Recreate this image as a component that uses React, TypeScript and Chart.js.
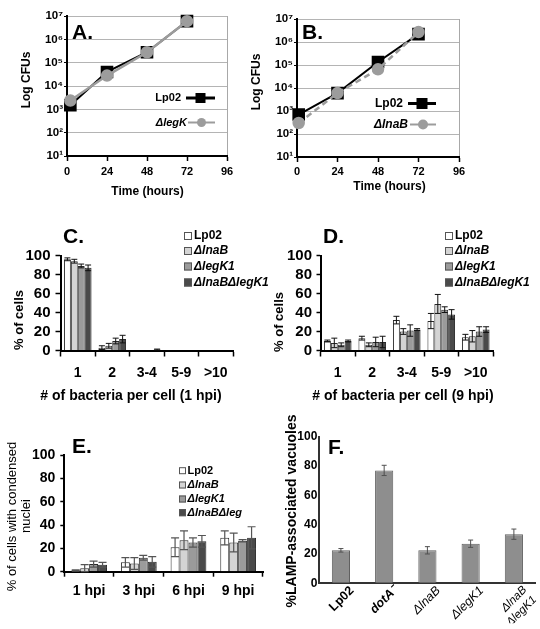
import React, { useEffect, useRef } from 'react';
import { Chart, registerables } from 'chart.js';

Chart.register(...registerables);

const FONT = '"Liberation Sans", Arial, Helvetica, sans-serif';

// ---------------- data ----------------
const strainLabels = ['Lp02', 'ΔlnaB', 'ΔlegK1', 'ΔlnaBΔlegK1'];
const strainLabelsE = ['Lp02', 'ΔlnaB', 'ΔlegK1', 'ΔlnaBΔleg'];
const strainColors = ['#ffffff', '#d4d4d4', '#9b9b9b', '#4a4a4a'];

// A / B growth curves
const timeTicks = [0, 24, 48, 72, 96];
const logTickValues = [1e1, 1e2, 1e3, 1e4, 1e5, 1e6, 1e7];
const logTickLabels = ['10¹', '10²', '10³', '10⁴', '10⁵', '10⁶', '10⁷'];

const aTimes = [2, 24, 48, 72];
const aLp02 = [1.5e3, 4.0e4, 2.8e5, 6.0e6];
const aLegK = [2.4e3, 2.8e4, 2.8e5, 6.0e6];
const aSeriesNames = ['Lp02', 'ΔlegK'];

const bTimes = [1, 24, 48, 72];
const bLp02 = [7.0e2, 6.0e3, 1.35e5, 2.2e6];
const bLnaB = [3.0e2, 6.0e3, 6.5e4, 2.7e6];
const bSeriesNames = ['Lp02', 'ΔlnaB'];

// C: bacteria per cell, 1 hpi
const bacteriaCategories = ['1', '2', '3-4', '5-9', '>10'];
const cLp02 = [96, 3, 0, 0, 0];
const cLnaB = [94, 5, 0, 0, 0];
const cLegK1 = [89, 10, 0, 0, 0];
const cDouble = [87, 12, 1, 0, 0];
const cLp02Err = [1.5, 2, 0, 0, 0];
const cLnaBErr = [2, 2.5, 0, 0, 0];
const cLegK1Err = [2, 3, 0, 0, 0];
const cDoubleErr = [3, 4, 0.5, 0, 0];

// D: bacteria per cell, 9 hpi
const dLp02 = [10, 13, 32, 31, 14];
const dLnaB = [8, 6, 20, 49, 15];
const dLegK1 = [6, 9, 21, 43, 20];
const dDouble = [10, 9, 22, 38, 22];
const dLp02Err = [1, 2, 4, 8, 3];
const dLnaBErr = [5, 2, 3, 10, 6];
const dLegK1Err = [2, 5, 6, 3, 5];
const dDoubleErr = [1, 6, 1, 5, 3];

// E: condensed nuclei
const hpiCategories = ['1 hpi', '3 hpi', '6 hpi', '9 hpi'];
const eLp02 = [1, 8, 21, 29];
const eLnaB = [3, 7, 27, 25];
const eLegK1 = [6.5, 12, 25, 26.5];
const eDouble = [6, 8.5, 26, 29];
const eLp02Err = [0.5, 4, 8, 6];
const eLnaBErr = [3, 5, 8, 8];
const eLegK1Err = [2.5, 2, 4, 1];
const eDoubleErr = [2, 4.5, 5, 9.5];

// F: LAMP-associated vacuoles
const fCategories: (string | string[])[] = ['Lp02', 'dotA⁻', 'ΔlnaB', 'ΔlegK1', ['ΔlnaB', 'ΔlegK1']];
const fValues = [22.5, 77, 22.5, 27, 33.5];
const fErrors = [1.2, 3.5, 2.5, 2.5, 3.5];

// ---------------- layout ----------------
type Box = { x: number; y: number; w: number; h: number };
type Area = { L: number; T: number; R: number; B: number };

const YW = 40;

const BOX_A: Box = { x: 0, y: 0, w: 250, h: 205 };
const AREA_A: Area = { L: 67, T: 16, R: 227, B: 156 };
const BOX_B: Box = { x: 240, y: 0, w: 300, h: 205 };
const AREA_B: Area = { L: 297, T: 19, R: 459, B: 157 };
const BOX_C: Box = { x: 0, y: 205, w: 285, h: 200 };
const AREA_C: Area = { L: 60.5, T: 255.5, R: 233, B: 350.5 };
const BOX_D: Box = { x: 265, y: 205, w: 275, h: 200 };
const AREA_D: Area = { L: 320.5, T: 255.5, R: 493, B: 350.5 };
const BOX_E: Box = { x: 0, y: 405, w: 270, h: 224 };
const AREA_E: Area = { L: 64.3, T: 455, R: 263, B: 571.7 };
const BOX_F: Box = { x: 270, y: 405, w: 270, h: 224 };
const AREA_F: Area = { L: 319.3, T: 436.7, R: 535.5, B: 583.3 };

function layoutFor(box: Box, area: Area, xh: number) {
  return {
    autoPadding: false,
    padding: {
      left: area.L - box.x - YW,
      top: area.T - box.y,
      right: box.x + box.w - area.R,
      bottom: box.y + box.h - area.B - xh,
    },
  };
}

// ---------------- drawing helpers ----------------
function txt(
  ctx: CanvasRenderingContext2D,
  t: string,
  x: number,
  y: number,
  font: string,
  rot = 0,
  align: CanvasTextAlign = 'center',
  color = '#000'
) {
  ctx.save();
  ctx.translate(x, y);
  if (rot) ctx.rotate(rot);
  ctx.font = font;
  ctx.fillStyle = color;
  ctx.textAlign = align;
  ctx.textBaseline = 'middle';
  ctx.fillText(t, 0, 0);
  ctx.restore();
}

function decorPlugin(box: Box, draw: (ctx: CanvasRenderingContext2D) => void) {
  return {
    id: 'decor',
    afterDraw(chart: any) {
      const ctx = chart.ctx as CanvasRenderingContext2D;
      ctx.save();
      ctx.translate(-box.x, -box.y);
      draw(ctx);
      ctx.restore();
    },
  };
}

function errorBarPlugin(errorSets: number[][], color: string, width: number, cap: number) {
  return {
    id: 'errorBars',
    afterDatasetsDraw(chart: any) {
      const ctx = chart.ctx as CanvasRenderingContext2D;
      const ys = chart.scales.y;
      ctx.save();
      ctx.strokeStyle = color;
      ctx.lineWidth = width;
      errorSets.forEach((errs, i) => {
        const meta = chart.getDatasetMeta(i);
        const vals = chart.data.datasets[i].data as number[];
        meta.data.forEach((bar: any, j: number) => {
          const e = errs[j];
          if (!e) return;
          const v = vals[j];
          const x = bar.x;
          const y1 = ys.getPixelForValue(v + e);
          const y2 = ys.getPixelForValue(Math.max(0, v - e));
          ctx.beginPath();
          ctx.moveTo(x, y1);
          ctx.lineTo(x, y2);
          ctx.moveTo(x - cap, y1);
          ctx.lineTo(x + cap, y1);
          ctx.moveTo(x - cap, y2);
          ctx.lineTo(x + cap, y2);
          ctx.stroke();
        });
      });
      ctx.restore();
    },
  };
}

function drawBoxLegend(
  ctx: CanvasRenderingContext2D,
  labels: string[],
  boxX: number,
  textX: number,
  ys: number[],
  size: number,
  fontSize: number
) {
  labels.forEach((lab, i) => {
    ctx.fillStyle = strainColors[i];
    ctx.fillRect(boxX, ys[i] - size / 2, size, size);
    ctx.strokeStyle = '#555';
    ctx.lineWidth = 1;
    ctx.strokeRect(boxX + 0.5, ys[i] - size / 2 + 0.5, size - 1, size - 1);
    const font = `${i === 0 ? '' : 'italic '}bold ${fontSize}px ${FONT}`;
    txt(ctx, lab, textX, ys[i], font, 0, 'left');
  });
}

function drawLineLegendItem(
  ctx: CanvasRenderingContext2D,
  label: string,
  font: string,
  textRight: number,
  y: number,
  x1: number,
  x2: number,
  color: string,
  marker: 'rect' | 'circle',
  size: number,
  lineW: number
) {
  txt(ctx, label, textRight, y, font, 0, 'right');
  ctx.save();
  ctx.strokeStyle = color;
  ctx.lineWidth = lineW;
  ctx.beginPath();
  ctx.moveTo(x1, y);
  ctx.lineTo(x2, y);
  ctx.stroke();
  ctx.fillStyle = color;
  const cx = (x1 + x2) / 2;
  if (marker === 'rect') {
    ctx.fillRect(cx - size / 2, y - size / 2, size, size);
  } else {
    ctx.beginPath();
    ctx.arc(cx, y, size / 2, 0, Math.PI * 2);
    ctx.fill();
  }
  ctx.restore();
}

// ---------------- configs ----------------
const BOLD = (size: number) => ({ family: FONT, size, weight: 'bold' as const });

function growthConfig(
  box: Box,
  area: Area,
  times: number[],
  black: number[],
  gray: number[],
  grayDash: number[],
  labelPad: number,
  decor: (ctx: CanvasRenderingContext2D) => void
) {
  const GRAY = '#9c9c9c';
  const xh = 30;
  return {
    type: 'line',
    data: {
      datasets: [
        {
          label: 'gray',
          data: times.map((t, i) => ({ x: t, y: gray[i] })),
          borderColor: GRAY,
          backgroundColor: GRAY,
          pointBackgroundColor: GRAY,
          pointBorderColor: GRAY,
          pointStyle: 'circle',
          pointRadius: 5,
          borderWidth: 2.5,
          borderDash: grayDash,
          tension: 0,
          order: 0,
          clip: false,
        },
        {
          label: 'black',
          data: times.map((t, i) => ({ x: t, y: black[i] })),
          borderColor: '#000',
          backgroundColor: '#000',
          pointBackgroundColor: '#000',
          pointBorderColor: '#000',
          pointStyle: 'rect',
          pointRadius: 7.5,
          borderWidth: 2,
          tension: 0,
          order: 1,
          clip: false,
        },
      ],
    },
    options: {
      responsive: false,
      animation: false,
      events: [],
      layout: layoutFor(box, area, xh),
      plugins: { legend: { display: false }, tooltip: { enabled: false } },
      scales: {
        x: {
          type: 'linear',
          min: 0,
          max: 96,
          afterBuildTicks: (s: any) => {
            s.ticks = timeTicks.map((v) => ({ value: v }));
          },
          afterFit: (s: any) => {
            s.height = xh;
          },
          ticks: { font: BOLD(11), color: '#000', padding: labelPad },
          grid: {
            color: (c: any) => (c.tick && c.tick.value === 96 ? '#a8a8a8' : 'rgba(0,0,0,0)'),
            tickColor: '#000',
            tickLength: 5,
            tickWidth: 1.5,
          },
          border: { color: '#000', width: 2 },
        },
        y: {
          type: 'logarithmic',
          min: 10,
          max: 1e7,
          afterBuildTicks: (s: any) => {
            s.ticks = logTickValues.map((v) => ({ value: v }));
          },
          afterFit: (s: any) => {
            s.width = YW;
          },
          ticks: {
            font: BOLD(11.5),
            color: '#000',
            padding: 1,
            autoSkip: false,
            callback: (v: any) => logTickLabels[Math.round(Math.log10(Number(v))) - 1] ?? '',
          },
          grid: { color: '#b4b4b4', lineWidth: 1, tickColor: '#000', tickLength: 3 },
          border: { color: '#000', width: 2 },
        },
      },
    },
    plugins: [decorPlugin(box, decor)],
  };
}

function groupedBarConfig(
  box: Box,
  area: Area,
  categories: string[],
  series: number[][],
  errors: number[][],
  catPct: number,
  fonts: { y: number; x: number },
  ticks: { yTick: number; yPad: number; xTick: number; xPad: number },
  err: { color: string; width: number; cap: number },
  decor: (ctx: CanvasRenderingContext2D) => void
) {
  const xh = 30;
  return {
    type: 'bar',
    data: {
      labels: categories,
      datasets: series.map((d, i) => ({
        label: strainLabels[i],
        data: d,
        backgroundColor: strainColors[i],
        borderColor: '#2a2a2a',
        borderWidth: 1,
        categoryPercentage: catPct,
        barPercentage: 1,
      })),
    },
    options: {
      responsive: false,
      animation: false,
      events: [],
      layout: layoutFor(box, area, xh),
      plugins: { legend: { display: false }, tooltip: { enabled: false } },
      scales: {
        x: {
          type: 'category',
          offset: true,
          afterFit: (s: any) => {
            s.height = xh;
          },
          ticks: { font: BOLD(fonts.x), color: '#000', padding: ticks.xPad, autoSkip: false, maxRotation: 0 },
          grid: {
            offset: true,
            drawOnChartArea: false,
            tickColor: '#000',
            tickLength: ticks.xTick,
            tickWidth: 1.5,
          },
          border: { color: '#000', width: 2 },
        },
        y: {
          min: 0,
          max: 100,
          afterFit: (s: any) => {
            s.width = YW;
          },
          ticks: { stepSize: 20, autoSkip: false, font: BOLD(fonts.y), color: '#000', padding: ticks.yPad },
          grid: { drawOnChartArea: false, tickColor: '#000', tickLength: ticks.yTick, tickWidth: 1.5 },
          border: { color: '#000', width: 2 },
        },
      },
    },
    plugins: [errorBarPlugin(errors, err.color, err.width, err.cap), decorPlugin(box, decor)],
  };
}

function lampConfig() {
  const box = BOX_F;
  const area = AREA_F;
  const xh = 40;
  return {
    type: 'bar',
    data: {
      labels: fCategories,
      datasets: [
        {
          label: '%LAMP',
          data: fValues,
          backgroundColor: '#8e8e8e',
          borderColor: '#606060',
          borderWidth: 1,
          categoryPercentage: 1,
          barPercentage: 0.42,
        },
      ],
    },
    options: {
      responsive: false,
      animation: false,
      events: [],
      layout: layoutFor(box, area, xh),
      plugins: { legend: { display: false }, tooltip: { enabled: false } },
      scales: {
        x: {
          type: 'category',
          offset: true,
          afterFit: (s: any) => {
            s.height = xh;
          },
          ticks: {
            font: (c: any) => ({
              family: FONT,
              size: c.index === 4 ? 11.5 : 12.5,
              weight: c.index < 2 ? 'bold' : 'normal',
              style: c.index >= 1 ? 'italic' : 'normal',
            }),
            color: '#000',
            padding: 0,
            labelOffset: 11,
            autoSkip: false,
            minRotation: 45,
            maxRotation: 45,
          },
          grid: { drawOnChartArea: false, drawTicks: false },
          border: { color: '#333', width: 2 },
        },
        y: {
          min: 0,
          max: 100,
          afterFit: (s: any) => {
            s.width = YW;
          },
          ticks: { stepSize: 20, autoSkip: false, font: BOLD(12), color: '#000', padding: 2 },
          grid: { drawOnChartArea: false, drawTicks: false },
          border: { color: '#333', width: 2 },
        },
      },
    },
    plugins: [
      errorBarPlugin([fErrors], '#505050', 1, 2.5),
      decorPlugin(box, (ctx) => {
        txt(ctx, 'F.', 328, 448, `bold 21px ${FONT}`, 0, 'left');
        txt(ctx, '%LAMP-associated vacuoles', 291.7, 511, `bold 14px ${FONT}`, -Math.PI / 2);
      }),
    ],
  };
}

// ---------------- panels ----------------
const configA = () =>
  growthConfig(BOX_A, AREA_A, aTimes, aLp02, aLegK, [], 4, (ctx) => {
    txt(ctx, 'A.', 72, 33, `bold 21px ${FONT}`, 0, 'left');
    txt(ctx, 'Log CFUs', 27, 80, `bold 12px ${FONT}`, -Math.PI / 2);
    txt(ctx, 'Time (hours)', 147.5, 191.5, `bold 12px ${FONT}`);
    drawLineLegendItem(ctx, aSeriesNames[0], `bold 11px ${FONT}`, 181, 98, 186, 215, '#000', 'rect', 10, 3);
    drawLineLegendItem(ctx, aSeriesNames[1], `italic bold 11px ${FONT}`, 187, 122.5, 188, 215, '#9c9c9c', 'circle', 9, 2);
  });

const configB = () =>
  growthConfig(BOX_B, AREA_B, bTimes, bLp02, bLnaB, [6, 4], 3, (ctx) => {
    txt(ctx, 'B.', 302, 33, `bold 21px ${FONT}`, 0, 'left');
    txt(ctx, 'Log CFUs', 257, 82, `bold 12px ${FONT}`, -Math.PI / 2);
    txt(ctx, 'Time (hours)', 389.5, 187, `bold 12px ${FONT}`);
    drawLineLegendItem(ctx, bSeriesNames[0], `bold 12px ${FONT}`, 403, 103.5, 408, 436, '#000', 'rect', 11, 3);
    drawLineLegendItem(ctx, bSeriesNames[1], `italic bold 12px ${FONT}`, 408, 124.5, 410, 436, '#9c9c9c', 'circle', 10, 2);
  });

const configC = () =>
  groupedBarConfig(
    BOX_C,
    AREA_C,
    bacteriaCategories,
    [cLp02, cLnaB, cLegK1, cDouble],
    [cLp02Err, cLnaBErr, cLegK1Err, cDoubleErr],
    0.8,
    { y: 15, x: 14 },
    { yTick: 5, yPad: 5, xTick: 6, xPad: 8 },
    { color: '#111', width: 1, cap: 3 },
    (ctx) => {
      txt(ctx, 'C.', 63, 237, `bold 21px ${FONT}`, 0, 'left');
      txt(ctx, '% of cells', 19, 320, `bold 13px ${FONT}`, -Math.PI / 2);
      txt(ctx, '# of bacteria per cell (1 hpi)', 131, 396, `bold 14px ${FONT}`);
      drawBoxLegend(ctx, strainLabels, 184, 194, [236, 251, 266.5, 282.5], 8, 12);
    }
  );

const configD = () =>
  groupedBarConfig(
    BOX_D,
    AREA_D,
    bacteriaCategories,
    [dLp02, dLnaB, dLegK1, dDouble],
    [dLp02Err, dLnaBErr, dLegK1Err, dDoubleErr],
    0.8,
    { y: 15, x: 14 },
    { yTick: 4, yPad: 4.5, xTick: 6, xPad: 8 },
    { color: '#111', width: 1, cap: 3 },
    (ctx) => {
      txt(ctx, 'D.', 323, 237, `bold 21px ${FONT}`, 0, 'left');
      txt(ctx, '% of cells', 279, 322, `bold 13px ${FONT}`, -Math.PI / 2);
      txt(ctx, '# of bacteria per cell (9 hpi)', 403, 396, `bold 14px ${FONT}`);
      drawBoxLegend(ctx, strainLabels, 445, 455, [236, 251, 266.5, 282.5], 8, 12);
    }
  );

const configE = () =>
  groupedBarConfig(
    BOX_E,
    AREA_E,
    hpiCategories,
    [eLp02, eLnaB, eLegK1, eDouble],
    [eLp02Err, eLnaBErr, eLegK1Err, eDoubleErr],
    0.72,
    { y: 14, x: 14 },
    { yTick: 4, yPad: 5, xTick: 5, xPad: 6.5 },
    { color: '#555', width: 1.2, cap: 4 },
    (ctx) => {
      txt(ctx, 'E.', 72, 447, `bold 21px ${FONT}`, 0, 'left');
      txt(ctx, '% of cells with condensed', 12, 516.5, `13px ${FONT}`, -Math.PI / 2);
      txt(ctx, 'nuclei', 26, 516, `13px ${FONT}`, -Math.PI / 2);
      drawBoxLegend(ctx, strainLabelsE, 179, 187.5, [470.7, 485, 499, 512.7], 7, 11);
    }
  );

// ---------------- React ----------------
function ChartPanel({ box, makeConfig }: { box: Box; makeConfig: () => any }) {
  const ref = useRef<HTMLCanvasElement>(null);
  useEffect(() => {
    const chart = new Chart(ref.current as HTMLCanvasElement, makeConfig());
    return () => chart.destroy();
  }, []);
  return (
    <canvas
      ref={ref}
      width={box.w}
      height={box.h}
      style={{ position: 'absolute', left: box.x, top: box.y, width: box.w, height: box.h }}
    />
  );
}

export default function App() {
  return (
    <div
      style={{
        position: 'absolute',
        left: 0,
        top: 0,
        width: 540,
        height: 629,
        background: '#ffffff',
        overflow: 'hidden',
      }}
    >
      <ChartPanel box={BOX_A} makeConfig={configA} />
      <ChartPanel box={BOX_B} makeConfig={configB} />
      <ChartPanel box={BOX_C} makeConfig={configC} />
      <ChartPanel box={BOX_D} makeConfig={configD} />
      <ChartPanel box={BOX_E} makeConfig={configE} />
      <ChartPanel box={BOX_F} makeConfig={lampConfig} />
    </div>
  );
}
